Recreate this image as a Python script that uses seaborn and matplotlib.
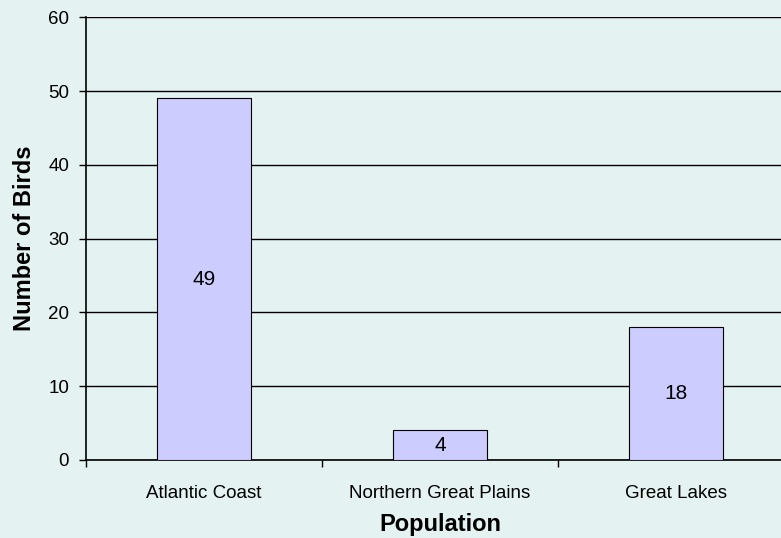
import matplotlib
matplotlib.use("Agg")
import matplotlib.pyplot as plt
import seaborn as sns
import pandas as pd

# ================= DATA =================
populations = ["Atlantic Coast", "Northern Great Plains", "Great Lakes"]
birds = [49, 4, 18]

BG = "#E4F2F2"
BAR = "#CCCCFF"

sns.set_style("white")
plt.rcParams["font.family"] = ["Liberation Sans", "DejaVu Sans"]
plt.rcParams["text.color"] = "black"
plt.rcParams["axes.labelcolor"] = "black"
plt.rcParams["xtick.color"] = "black"
plt.rcParams["ytick.color"] = "black"

df = pd.DataFrame({"Population": populations, "Birds": birds})

fig = plt.figure(figsize=(7.81, 5.38), dpi=100, facecolor=BG)
ax = fig.add_axes([0.110, 0.145, 0.907, 0.823])
ax.set_facecolor(BG)

sns.barplot(data=df, x="Population", y="Birds", color=BAR, width=0.4,
            edgecolor="black", linewidth=0.8, saturation=1, ax=ax, zorder=3)

ax.set_ylim(0, 60)
ax.set_xlim(-0.5, 2.5)
ax.set_yticks(range(0, 61, 10))
ax.yaxis.grid(True, color="black", linewidth=1, zorder=0)
ax.set_axisbelow(True)

for sp in ["top", "right"]:
    ax.spines[sp].set_visible(False)
for sp in ["left", "bottom"]:
    ax.spines[sp].set_color("black")
    ax.spines[sp].set_linewidth(1.2)

# category boundary ticks on the x axis
ax.set_xticks([0, 1, 2])
ax.set_xticks([-0.5, 0.5, 1.5], minor=True)
ax.tick_params(axis="x", which="major", length=0, pad=18, labelsize=13.5, bottom=True)
ax.tick_params(axis="x", which="minor", length=5, color="black", width=1, bottom=True)
ax.tick_params(axis="y", length=5, color="black", width=1, labelsize=13.5, left=True, pad=7)

for i, v in enumerate(birds):
    ax.text(i, v / 2, str(v), ha="center", va="center", fontsize=15, zorder=4)

ax.set_xlabel("Population", fontsize=17, fontweight="bold", labelpad=8)
ax.set_ylabel("Number of Birds", fontsize=17, fontweight="bold", labelpad=9)

fig.savefig("out.png", dpi=100, facecolor=BG)
